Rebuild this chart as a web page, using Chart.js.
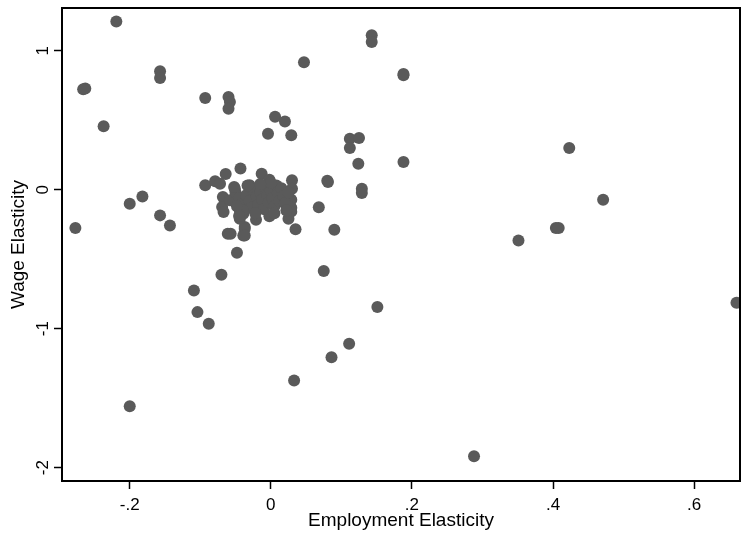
<!DOCTYPE html>
<html>
<head>
<meta charset="utf-8">
<script src="https://cdn.jsdelivr.net/npm/chart.js@4"></script>
<style>
  html, body { margin: 0; padding: 0; background: #fff; }
  #wrap { width: 741px; height: 538px; }
</style>
</head>
<body>
<div id="wrap"><canvas id="scatter"></canvas></div>
<script>
// employment elasticity (x) and wage elasticity (y)
const empX = [
  -0.219, -0.263, -0.266, -0.237, -0.157, -0.157, -0.093, -0.060, -0.058, -0.060,
  0.047, 0.006, 0.020, -0.004, 0.029, 0.143, 0.143, 0.112, 0.125, 0.112,
  0.124, 0.129, 0.129, 0.081, 0.080, 0.068, 0.090, 0.035, -0.277, -0.200,
  -0.182, -0.157, -0.143, -0.093, -0.079, -0.072, -0.064, -0.043, -0.068, -0.069,
  -0.067, -0.051, -0.058, -0.061, -0.057, -0.039, -0.048, -0.013, -0.002, 0.030,
  0.030, 0.029, 0.029, 0.029, 0.025, -0.002, -0.021, -0.037, -0.044, -0.044,
  -0.030, -0.039, -0.037, -0.037, 0.188, 0.188, 0.423, 0.471, 0.404, 0.408,
  0.351, 0.075, -0.070, -0.109, -0.104, -0.088, 0.111, 0.086, 0.033, -0.200,
  0.151, 0.288, 0.660, 0.188,
  // dense cluster round the origin
  -0.050, -0.045, -0.040, -0.035, -0.030, -0.028, -0.025, -0.020, -0.018, -0.015,
  -0.012, -0.010, -0.008, -0.005, -0.003, 0.000, 0.002, 0.005, 0.008, 0.010,
  0.012, 0.015, 0.018, 0.020, 0.022, -0.040, -0.048, -0.052, -0.033, -0.022,
  0.000, 0.025, -0.015, -0.045, 0.005
];
const wageY = [
  1.21, 0.727, 0.722, 0.456, 0.852, 0.803, 0.66, 0.667, 0.63, 0.583,
  0.916, 0.525, 0.49, 0.403, 0.391, 1.111, 1.063, 0.367, 0.371, 0.30,
  0.187, 0.007, -0.024, 0.055, 0.065, -0.127, -0.288, -0.284, -0.276, -0.101,
  -0.05, -0.185, -0.257, 0.031, 0.06, 0.043, 0.112, 0.153, -0.053, -0.125,
  -0.161, 0.007, -0.077, -0.317, -0.317, -0.329, -0.454, 0.115, 0.072, 0.067,
  0.007, -0.072, -0.13, -0.158, -0.209, -0.192, -0.216, -0.269, -0.209, -0.15,
  0.031, -0.173, -0.281, -0.33, 0.823, 0.199, 0.30, -0.072, -0.276, -0.276,
  -0.365, -0.586, -0.612, -0.725, -0.881, -0.965, -1.109, -1.205, -1.373, -1.558,
  -0.845, -1.918, -0.814, 0.833,
  -0.02, -0.06, -0.10, -0.04, -0.08, -0.13, 0.00, -0.05, -0.11, -0.02,
  -0.07, -0.14, 0.02, -0.04, -0.09, -0.01, -0.06, -0.12, 0.03, -0.03,
  -0.08, 0.01, -0.05, -0.10, -0.15, -0.15, -0.12, 0.02, 0.03, -0.17,
  0.05, -0.02, 0.04, -0.19, -0.17
];

const xTicks = [-0.2, 0, 0.2, 0.4, 0.6];
const yTicks = [-2, -1, 0, 1];
const xRange = [-0.296, 0.665];
const yRange = [-2.096, 1.307];

const fontFamily = '"Liberation Sans", Arial, sans-serif';

function stataLabel(v) {
  if (v === 0) return '0';
  return String(v).replace('0.', '.');
}

const points = empX.map((x, i) => ({ x: x, y: wageY[i] }));

// frame round the plot + vertical y tick labels, Stata style
const frameAndYLabels = {
  id: 'frameAndYLabels',
  afterDraw(chart) {
    const ctx = chart.ctx;
    const a = chart.chartArea;
    ctx.save();
    ctx.strokeStyle = '#000';
    ctx.lineWidth = 2;
    ctx.strokeRect(a.left, a.top, a.right - a.left, a.bottom - a.top);

    ctx.fillStyle = '#000';
    ctx.font = '17px ' + fontFamily;
    ctx.textAlign = 'center';
    ctx.textBaseline = 'alphabetic';
    yTicks.forEach(v => {
      const py = chart.scales.y.getPixelForValue(v);
      ctx.save();
      ctx.translate(48, py);
      ctx.rotate(-Math.PI / 2);
      ctx.fillText(stataLabel(v), 0, 0);
      ctx.restore();
    });
    ctx.restore();
  }
};

function initChart() {
  const ctx = document.getElementById('scatter').getContext('2d');
  new Chart(ctx, {
    type: 'scatter',
    data: {
      datasets: [{
        label: 'elasticities',
        data: points,
        backgroundColor: '#5a5a5a',
        borderWidth: 0,
        pointRadius: 6,
        pointHoverRadius: 6
      }]
    },
    options: {
      responsive: true,
      maintainAspectRatio: false,
      animation: false,
      layout: { autoPadding: false, padding: { top: 8, right: 1, left: 0, bottom: 0 } },
      plugins: {
        legend: { display: false },
        tooltip: { enabled: false }
      },
      scales: {
        x: {
          type: 'linear',
          min: xRange[0],
          max: xRange[1],
          afterBuildTicks: s => { s.ticks = xTicks.map(v => ({ value: v })); },
          afterFit: s => { s.height = 57; },
          grid: { drawOnChartArea: false, drawTicks: true, tickLength: 8, tickColor: '#000', tickWidth: 1.5 },
          border: { display: true, color: '#000', width: 2 },
          ticks: {
            padding: 6,
            color: '#000',
            font: { family: fontFamily, size: 17 },
            callback: v => stataLabel(v)
          },
          title: {
            display: true,
            text: 'Employment Elasticity',
            color: '#000',
            font: { family: fontFamily, size: 19 },
            padding: { top: 0, bottom: 6 }
          }
        },
        y: {
          type: 'linear',
          min: yRange[0],
          max: yRange[1],
          afterBuildTicks: s => { s.ticks = yTicks.map(v => ({ value: v })); },
          afterFit: s => { s.width = 62; },
          grid: { drawOnChartArea: false, drawTicks: true, tickLength: 8, tickColor: '#000', tickWidth: 1.5 },
          border: { display: true, color: '#000', width: 2 },
          ticks: { display: false },
          title: {
            display: true,
            text: 'Wage Elasticity',
            color: '#000',
            font: { family: fontFamily, size: 19 },
            padding: { top: 7, bottom: 0 }
          }
        }
      }
    },
    plugins: [frameAndYLabels]
  });
}

window.addEventListener('load', initChart);
</script>
</body>
</html>
